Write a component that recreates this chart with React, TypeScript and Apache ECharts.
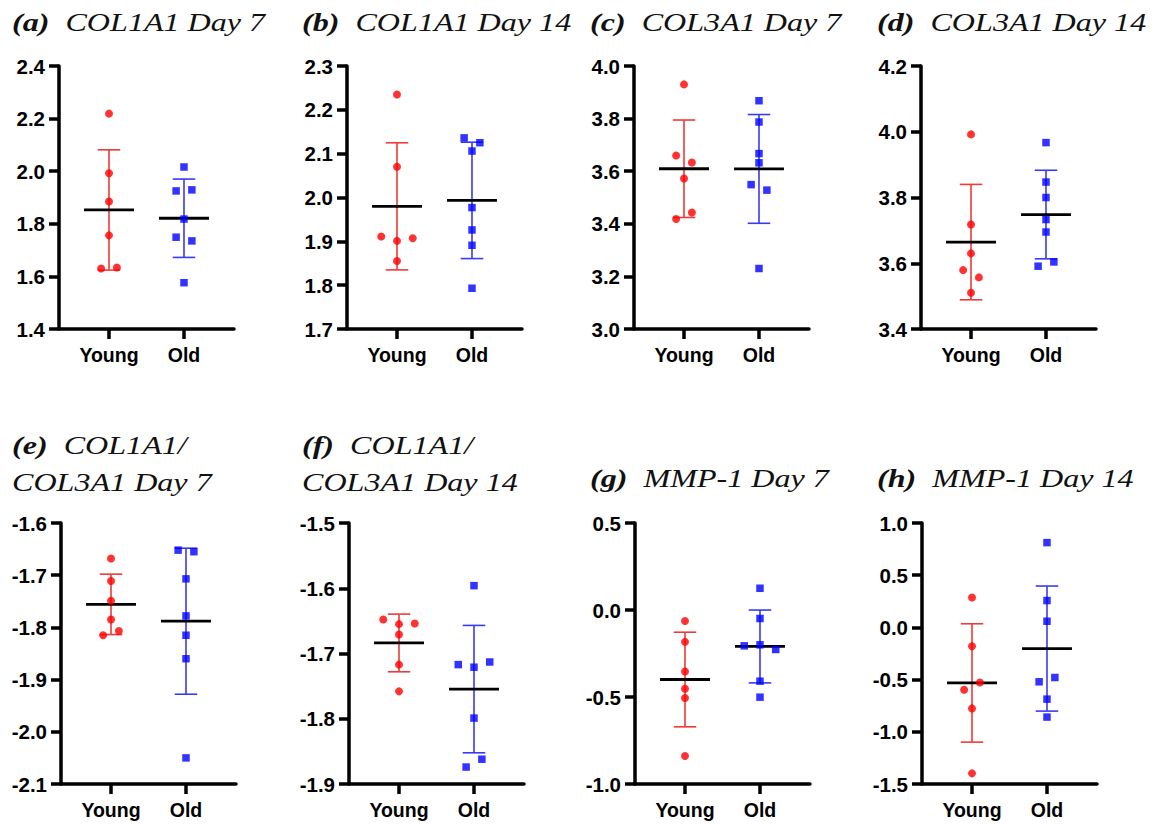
import React, { useEffect, useRef } from 'react';
import * as echarts from 'echarts';

// ---------- data ----------
const categories = ['Young', 'Old'];
const panelTags = ['(a)', '(b)', '(c)', '(d)', '(e)', '(f)', '(g)', '(h)'];
const panelTitles: string[][] = [
  ['COL1A1 Day 7'],
  ['COL1A1 Day 14'],
  ['COL3A1 Day 7'],
  ['COL3A1 Day 14'],
  ['COL1A1/', 'COL3A1 Day 7'],
  ['COL1A1/', 'COL3A1 Day 14'],
  ['MMP-1 Day 7'],
  ['MMP-1 Day 14'],
];

const yMins = [1.4, 1.7, 3.0, 3.4, -2.1, -1.9, -1.0, -1.5];
const yMaxs = [2.4, 2.3, 4.0, 4.2, -1.6, -1.5, 0.5, 1.0];
const yIntervals = [0.2, 0.1, 0.2, 0.2, 0.1, 0.1, 0.5, 0.5];

const youngA = [2.219, 1.992, 1.885, 1.756, 1.63, 1.634];
const oldA = [2.016, 1.925, 1.929, 1.818, 1.749, 1.735, 1.576];
const youngB = [2.235, 2.07, 1.911, 1.901, 1.907, 1.855];
const oldB = [2.136, 2.125, 2.106, 1.977, 1.926, 1.891, 1.793];
const youngC = [3.93, 3.66, 3.633, 3.572, 3.443, 3.418];
const oldC = [3.868, 3.787, 3.667, 3.632, 3.549, 3.528, 3.23];
const youngD = [3.992, 3.718, 3.63, 3.579, 3.557, 3.51];
const oldD = [3.967, 3.847, 3.8, 3.733, 3.695, 3.591, 3.604];
const youngE = [-1.668, -1.711, -1.749, -1.785, -1.815, -1.807];
const oldE = [-1.652, -1.655, -1.707, -1.778, -1.815, -1.86, -2.05];
const youngF = [-1.648, -1.655, -1.654, -1.671, -1.717, -1.758];
const oldF = [-1.596, -1.717, -1.721, -1.713, -1.799, -1.862, -1.874];
const youngG = [-0.063, -0.183, -0.353, -0.453, -0.506, -0.839];
const oldG = [0.125, -0.049, -0.206, -0.2, -0.227, -0.409, -0.501];
const youngH = [0.286, -0.18, -0.527, -0.598, -0.776, -1.398];
const oldH = [0.812, 0.257, 0.059, -0.48, -0.521, -0.687, -0.859];

// jitter slots (scatter-plot spreading of overlapping points)
const youngJitterA = [0, 0, 0, 0, -1, 1];
const oldJitterA = [0, -1, 1, 0, -1, 1, 0];
const youngJitterB = [0, 0, -2, 0, 2, 0];
const oldJitterB = [-1, 1, 0, 0, 0, 0, 0];
const youngJitterC = [0, -1, 1, 0, 1, -1];
const oldJitterC = [0, 0, 0, 0, -1, 1, 0];
const youngJitterD = [0, 0, 0, -1, 1, 0];
const oldJitterD = [0, 0, 0, 0, 0, -1, 1];
const youngJitterE = [0, 0, 0, 0, -1, 1];
const oldJitterE = [-1, 1, 0, 0, 0, 0, 0];
const youngJitterF = [-2, 0, 2, 0, 0, 0];
const oldJitterF = [0, -2, 0, 2, 0, 1, -1];
const youngJitterG = [0, 0, 0, 0, 0, 0];
const oldJitterG = [0, 0, -2, 0, 2, 0, 0];
const youngJitterH = [0, 0, 1, -1, 0, 0];
const oldJitterH = [0, 0, 0, 1, -1, 0, 0];

const youngSets = [youngA, youngB, youngC, youngD, youngE, youngF, youngG, youngH];
const oldSets = [oldA, oldB, oldC, oldD, oldE, oldF, oldG, oldH];
const youngJitters = [youngJitterA, youngJitterB, youngJitterC, youngJitterD, youngJitterE, youngJitterF, youngJitterG, youngJitterH];
const oldJitters = [oldJitterA, oldJitterB, oldJitterC, oldJitterD, oldJitterE, oldJitterF, oldJitterG, oldJitterH];

// ---------- layout ----------
const gridLefts = [59, 347, 634, 921, 61, 349, 635, 922];
const gridWidth = 175;
const rowTops = [66, 523];
const rowHeights = [263, 261];
const titleXs = [12, 302, 590, 877, 12, 302, 590, 877];

const JITTER_STEP = 0.105;
const MEAN_HALF = 0.333;
const CAP_HALF = 0.15;
const RED = '#ff0000';
const BLUE = '#0000ff';
const RED_BAR = '#f03a3a';
const BLUE_BAR = '#3a3af0';
const AXIS_W = 3.5;

function mean(a: number[]) {
  return a.reduce((s, v) => s + v, 0) / a.length;
}
function sd(a: number[]) {
  const m = mean(a);
  return Math.sqrt(a.reduce((s, v) => s + (v - m) * (v - m), 0) / (a.length - 1));
}

function buildOption() {
  const grid: any[] = [];
  const xAxis: any[] = [];
  const yAxis: any[] = [];
  const series: any[] = [];
  const graphic: any[] = [];

  for (let i = 0; i < 8; i++) {
    const row = i < 4 ? 0 : 1;
    grid.push({ left: gridLefts[i], top: rowTops[row], width: gridWidth, height: rowHeights[row] });
    xAxis.push({
      gridIndex: i,
      type: 'value',
      min: 0.333,
      max: 2.667,
      axisLine: { show: true, onZero: false, lineStyle: { color: '#000', width: AXIS_W } },
      axisTick: { show: true, customValues: [1, 2], length: 10, lineStyle: { color: '#000', width: AXIS_W } },
      axisLabel: {
        customValues: [1, 2],
        formatter: (v: number) => categories[Math.round(v) - 1] ?? '',
        color: '#000',
        fontFamily: 'Liberation Sans',
        fontWeight: 'bold',
        fontSize: 19.5,
        margin: 16,
      },
      splitLine: { show: false },
    });
    yAxis.push({
      gridIndex: i,
      type: 'value',
      min: yMins[i],
      max: yMaxs[i],
      interval: yIntervals[i],
      axisLine: { show: true, onZero: false, lineStyle: { color: '#000', width: AXIS_W } },
      axisTick: { show: true, length: 10, lineStyle: { color: '#000', width: AXIS_W } },
      axisLabel: {
        formatter: (v: number) => (Math.abs(v) < 1e-9 ? '0.0' : v.toFixed(1)),
        color: '#000',
        fontFamily: 'Liberation Sans',
        fontWeight: 'bold',
        fontSize: 20.5,
        margin: 14,
      },
      splitLine: { show: false },
    });

    const groups = [
      { vals: youngSets[i], jit: youngJitters[i], x: 1, color: RED, bar: RED_BAR, symbol: 'circle', size: 8 },
      { vals: oldSets[i], jit: oldJitters[i], x: 2, color: BLUE, bar: BLUE_BAR, symbol: 'rect', size: 7.5 },
    ];
    groups.forEach((g) => {
      const m = mean(g.vals);
      const s = sd(g.vals);
      series.push({
        type: 'custom',
        xAxisIndex: i,
        yAxisIndex: i,
        z: 2,
        silent: true,
        data: [[g.x, m, m - s, m + s]],
        encode: { x: 0, y: [1, 2, 3] },
        renderItem: (params: any, api: any) => {
          const x = api.value(0);
          const mv = api.value(1);
          const lo = api.value(2);
          const hi = api.value(3);
          const pLo = api.coord([x, lo]);
          const pHi = api.coord([x, hi]);
          const capL = api.coord([x - CAP_HALF, lo]);
          const capR = api.coord([x + CAP_HALF, lo]);
          const capLt = api.coord([x - CAP_HALF, hi]);
          const capRt = api.coord([x + CAP_HALF, hi]);
          const mL = api.coord([x - MEAN_HALF, mv]);
          const mR = api.coord([x + MEAN_HALF, mv]);
          const bs = { stroke: g.bar, lineWidth: 1.6 };
          return {
            type: 'group',
            children: [
              { type: 'line', shape: { x1: pLo[0], y1: pLo[1], x2: pHi[0], y2: pHi[1] }, style: bs },
              { type: 'line', shape: { x1: capL[0], y1: capL[1], x2: capR[0], y2: capR[1] }, style: bs },
              { type: 'line', shape: { x1: capLt[0], y1: capLt[1], x2: capRt[0], y2: capRt[1] }, style: bs },
              { type: 'line', shape: { x1: mL[0], y1: mL[1], x2: mR[0], y2: mR[1] }, style: { stroke: '#000', lineWidth: 2.8 } },
            ],
          };
        },
      });
      series.push({
        type: 'scatter',
        xAxisIndex: i,
        yAxisIndex: i,
        z: 3,
        symbol: g.symbol,
        symbolSize: g.size,
        itemStyle: { color: g.color },
        data: g.vals.map((v, k) => [g.x + g.jit[k] * JITTER_STEP, v]),
      });
    });

    // titles
    const lines = panelTitles[i];
    const tx = titleXs[i];
    const rich = {
      b: { fontFamily: 'Liberation Serif', fontStyle: 'italic', fontWeight: 'bold', fontSize: 24.5, fill: '#111' },
      n: { fontFamily: 'Liberation Serif', fontStyle: 'italic', fontWeight: 'normal', fontSize: 24.5, fill: '#111' },
    };
    const SX = 1.31;
    if (row === 0) {
      graphic.push({
        type: 'text', x: tx, y: 23, scaleX: SX,
        style: { text: `{b|${panelTags[i]}}{n|  ${lines[0]}}`, rich, verticalAlign: 'middle', align: 'left' },
      });
    } else if (lines.length === 2) {
      graphic.push({
        type: 'text', x: tx, y: 446, scaleX: SX,
        style: { text: `{b|${panelTags[i]}}{n|  ${lines[0]}}`, rich, verticalAlign: 'middle', align: 'left' },
      });
      graphic.push({
        type: 'text', x: tx, y: 483, scaleX: SX,
        style: { text: `{n|${lines[1]}}`, rich, verticalAlign: 'middle', align: 'left' },
      });
    } else {
      graphic.push({
        type: 'text', x: tx, y: 479, scaleX: SX,
        style: { text: `{b|${panelTags[i]}}{n|  ${lines[0]}}`, rich, verticalAlign: 'middle', align: 'left' },
      });
    }
  }

  return { animation: false, backgroundColor: '#fff', grid, xAxis, yAxis, series, graphic };
}

export default function App() {
  const ref = useRef<HTMLDivElement>(null);
  useEffect(() => {
    if (!ref.current) return;
    const chart = echarts.init(ref.current, undefined, { renderer: 'svg' });
    chart.setOption(buildOption() as any);
    return () => chart.dispose();
  }, []);
  return <div ref={ref} style={{ position: 'absolute', left: 0, top: 0, width: 1153, height: 825, background: '#fff' }} />;
}
